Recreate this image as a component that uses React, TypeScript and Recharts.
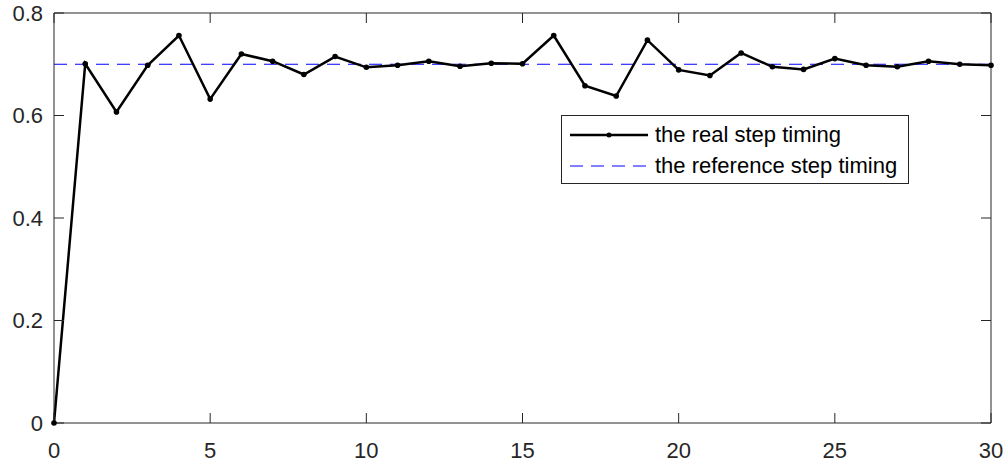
import { LineChart, Line, XAxis, YAxis, ReferenceLine, Legend } from 'recharts';

const steps = [0, 1, 2, 3, 4, 5, 6, 7, 8, 9, 10, 11, 12, 13, 14, 15, 16, 17, 18, 19, 20, 21, 22, 23, 24, 25, 26, 27, 28, 29, 30];
const realTiming = [
  0, 0.701, 0.607, 0.698, 0.756, 0.632, 0.72, 0.706, 0.68, 0.715, 0.694,
  0.698, 0.706, 0.696, 0.702, 0.701, 0.756, 0.658, 0.638, 0.747, 0.689,
  0.678, 0.722, 0.695, 0.69, 0.711, 0.698, 0.695, 0.706, 0.7, 0.698,
];
const referenceTiming = 0.7;
const xTicks = [0, 5, 10, 15, 20, 25, 30];
const yTicks = [0, 0.2, 0.4, 0.6, 0.8];
const seriesNames = ['the real step timing', 'the reference step timing'];

const data = steps.map((s, i) => ({ step: s, real: realTiming[i] }));

const axisColor = '#262626';
const font = '"Liberation Sans", Arial, Helvetica, sans-serif';

// top / right axes only carry the inward tick marks
const NoLabel = () => <g />;

function TimingLegend() {
  const row = { display: 'flex', alignItems: 'center', height: 31 };
  return (
    <div
      style={{
        width: 348,
        height: 69,
        boxSizing: 'border-box',
        border: `1px solid ${axisColor}`,
        background: '#fff',
        padding: '3px 0 0 7px',
        fontFamily: font,
        fontSize: 22,
        color: '#000',
      }}
    >
      <div style={row}>
        <svg width={86} height={20}>
          <line x1={1} y1={10} x2={79} y2={10} stroke="#000" strokeWidth={2.5} />
          <circle cx={40} cy={10} r={2.5} fill="#000" />
        </svg>
        <span>{seriesNames[0]}</span>
      </div>
      <div style={row}>
        <svg width={86} height={20}>
          <line x1={1} y1={10} x2={79} y2={10} stroke="#0000ff" strokeWidth={1.2} strokeDasharray="13 8" />
        </svg>
        <span>{seriesNames[1]}</span>
      </div>
    </div>
  );
}

export default function App() {
  return (
    <div style={{ position: 'absolute', left: 0, top: 0, background: '#fff' }}>
      <LineChart
        width={1007}
        height={467}
        data={data}
        margin={{ top: 3, right: 6, bottom: 0, left: 0 }}
        style={{ fontFamily: font }}
      >
        <XAxis
          dataKey="step"
          type="number"
          domain={[0, 30]}
          ticks={xTicks}
          height={44}
          stroke={axisColor}
          tickSize={-10}
          tickMargin={29}
          tick={{ fill: axisColor, fontSize: 22 }}
        />
        <XAxis
          xAxisId="top"
          dataKey="step"
          type="number"
          orientation="top"
          domain={[0, 30]}
          ticks={xTicks}
          height={10}
          stroke={axisColor}
          tickSize={-10}
          tick={NoLabel}
        />
        <YAxis
          type="number"
          domain={[0, 0.8]}
          ticks={yTicks}
          width={54}
          stroke={axisColor}
          tickSize={-10}
          tickMargin={21}
          tick={{ fill: axisColor, fontSize: 22 }}
        />
        <YAxis
          yAxisId="right"
          dataKey="real"
          type="number"
          orientation="right"
          domain={[0, 0.8]}
          ticks={yTicks}
          width={10}
          stroke={axisColor}
          tickSize={-10}
          tick={NoLabel}
        />
        <ReferenceLine y={referenceTiming} stroke="#0000ff" strokeWidth={1.2} strokeDasharray="13 8" />
        <Line
          type="linear"
          dataKey="real"
          stroke="#000"
          strokeWidth={2.5}
          dot={{ r: 2.8, fill: '#000', stroke: 'none' }}
          isAnimationActive={false}
        />
        <Legend
          layout="vertical"
          align="center"
          verticalAlign="middle"
          content={() => <TimingLegend />}
          wrapperStyle={{ left: 561, top: 115, width: 348 }}
        />
      </LineChart>
    </div>
  );
}
